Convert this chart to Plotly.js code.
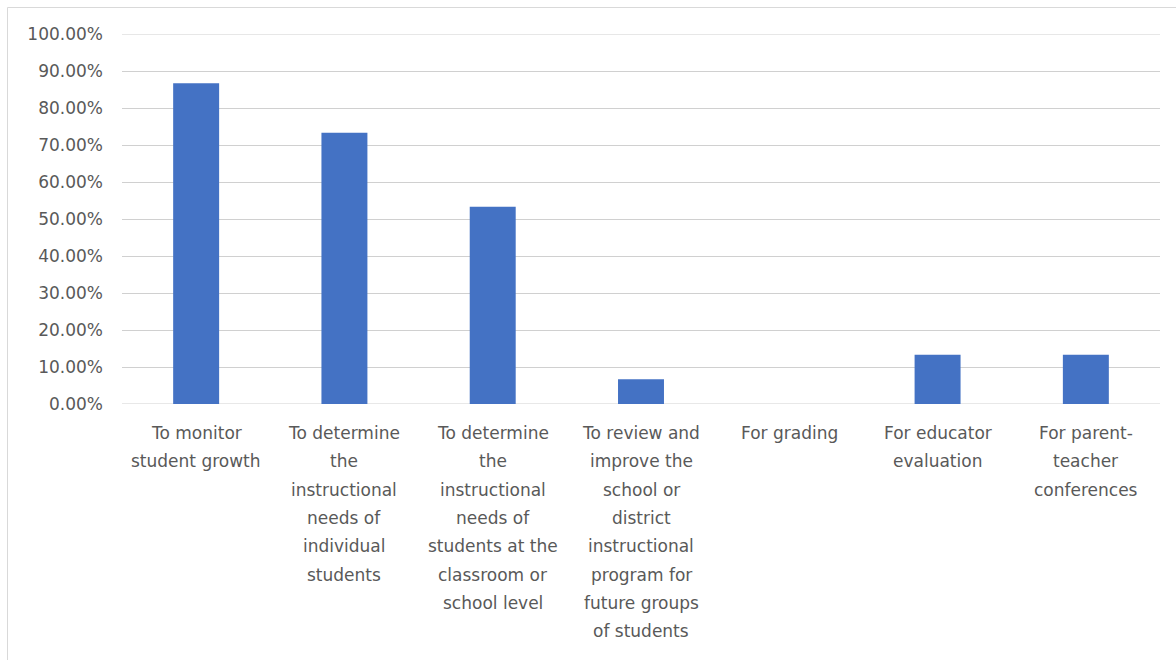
<!DOCTYPE html>
<html>
<head>
<meta charset="utf-8">
<script src="https://cdn.plot.ly/plotly-3.0.1.min.js"></script>
<style>
  html, body { margin: 0; padding: 0; background: #ffffff; }
  #chart { width: 1176px; height: 660px; }
</style>
</head>
<body>
<div id="chart"></div>
<script>
const categories = [
  "To monitor<br>student growth",
  "To determine<br>the<br>instructional<br>needs of<br>individual<br>students",
  "To determine<br>the<br>instructional<br>needs of<br>students at the<br>classroom or<br>school level",
  "To review and<br>improve the<br>school or<br>district<br>instructional<br>program for<br>future groups<br>of students",
  "For grading",
  "For educator<br>evaluation",
  "For parent-<br>teacher<br>conferences"
];
const values = [0.8667, 0.7333, 0.5333, 0.0667, 0, 0.1333, 0.1333];
const yTickValues = [0, 0.1, 0.2, 0.3, 0.4, 0.5, 0.6, 0.7, 0.8, 0.9, 1.0];

const W = 1176, H = 660;
const mL = 122, mR = 16, mT = 34, mB = 256;
const plotW = W - mL - mR, plotH = H - mT - mB;
const textColor = '#595959';
const fontFam = 'DejaVu Sans, sans-serif';
const fontSize = 17;
const gridColor = '#d0d0d0';

const annotations = [];
categories.forEach((cat) => {
  cat.split('<br>').forEach((line, i) => {
    annotations.push({
      x: cat, xref: 'x', y: 0, yref: 'paper',
      text: line, showarrow: false,
      xanchor: 'center', yanchor: 'middle',
      yshift: -29 - i * 28.3,
      font: { family: fontFam, size: fontSize, color: textColor }
    });
  });
});

const px2x = (p) => (p - mL) / plotW;
const px2y = (p) => (H - mB - p) / plotH;

const data = [{
  type: 'bar',
  x: categories,
  y: values,
  marker: { color: '#4472C4', line: { width: 0 } },
  hoverinfo: 'y'
}];

const shapes = [{
  type: 'rect', xref: 'paper', yref: 'paper',
  x0: px2x(7.5), x1: px2x(1200), y0: px2y(700), y1: px2y(7.5),
  line: { color: '#d9d9d9', width: 1 },
  fillcolor: 'rgba(0,0,0,0)',
  layer: 'below'
}];
// edge gridlines (0% and 100%) that Plotly omits at the range ends
[yTickValues[0], yTickValues[yTickValues.length - 1]].forEach((v) => {
  shapes.push({
    type: 'line', xref: 'paper', yref: 'y',
    x0: 0, x1: 1, y0: v, y1: v,
    line: { color: gridColor, width: 1 },
    layer: 'below'
  });
});

const layout = {
  width: W, height: H,
  margin: { l: mL, r: mR, t: mT, b: mB, pad: 0 },
  paper_bgcolor: '#ffffff',
  plot_bgcolor: '#ffffff',
  showlegend: false,
  bargap: 0.69,
  xaxis: {
    type: 'category',
    showticklabels: false,
    showgrid: false,
    zeroline: false,
    showline: false,
    ticks: ''
  },
  yaxis: {
    range: [0, 1.0],
    tickvals: yTickValues,
    tickformat: '.2%',
    showgrid: true,
    gridcolor: gridColor,
    gridwidth: 1,
    zeroline: false,
    showline: false,
    ticks: '',
    ticklabelstandoff: 18,
    tickfont: { family: fontFam, size: fontSize, color: textColor },
    fixedrange: true
  },
  annotations: annotations,
  shapes: shapes
};

Plotly.newPlot('chart', data, layout, { displayModeBar: false, staticPlot: true });
</script>
</body>
</html>
